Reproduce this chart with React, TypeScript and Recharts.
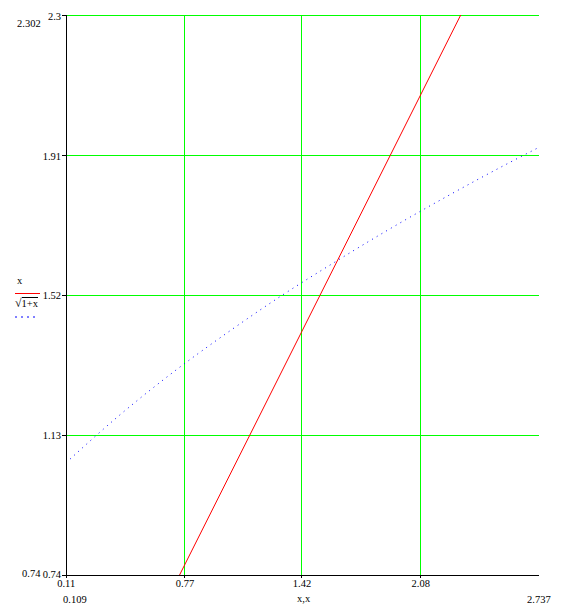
import { LineChart, Line, XAxis, YAxis, ReferenceLine } from 'recharts'

// Axis limits and ticks
const xMin = 0.109
const xMax = 2.737
const yMin = 0.74
const yMax = 2.302
const xTicks = [0.11, 0.77, 1.42, 2.08]
const yTicks = [0.74, 1.13, 1.52, 1.91, 2.3]
const xGrid = [0.77, 1.42, 2.08]
const yGrid = [1.13, 1.52, 1.91, 2.3]

// trace 1: x (red, solid)
const redX = [0.74, 2.302]
const redY = [0.74, 2.302]

// trace 2: sqrt(1+x) (blue, dotted)
const blueX = [0.109, 0.4, 0.7, 1.0, 1.3, 1.6, 1.9, 2.2, 2.5, 2.737]
const blueY = [1.053, 1.183, 1.304, 1.414, 1.517, 1.612, 1.703, 1.789, 1.871, 1.933]

const redData = redX.map((x, i) => ({ x, y: redY[i] }))
const blueData = blueX.map((x, i) => ({ x, y: blueY[i] }))

const FONT = "'Liberation Serif', 'DejaVu Serif', serif"
const FS = 10.5
const GREEN = '#00ff00'

const label = (left: number, top: number, text: string) => (
    <div style={{ position: 'absolute', left, top, fontFamily: FONT, fontSize: FS, lineHeight: '12px', color: '#000', whiteSpace: 'nowrap' }}>
        {text}
    </div>
)

export default function App() {
    return (
        <div style={{ position: 'absolute', left: 0, top: 0, width: 568, height: 607, background: '#fff' }}>
            <LineChart width={568} height={607} margin={{ top: 15, right: 29, bottom: 0, left: 0 }}>
                <XAxis
                    type="number"
                    dataKey="x"
                    domain={[xMin, xMax]}
                    ticks={xTicks}
                    allowDataOverflow
                    height={32}
                    axisLine={{ stroke: '#000', strokeWidth: 1, shapeRendering: 'crispEdges' }}
                    tickLine={{ stroke: '#000', shapeRendering: 'crispEdges' }}
                    tickSize={3}
                    tick={(p: any) => (
                        <text key={p.payload.value} x={p.x} y={583} textAnchor="middle" dominantBaseline="central"
                            fontFamily={FONT} fontSize={FS} fill="#000">
                            {p.payload.value}
                        </text>
                    )}
                />
                <YAxis
                    type="number"
                    dataKey="y"
                    domain={[yMin, yMax]}
                    ticks={yTicks}
                    allowDataOverflow
                    width={66}
                    axisLine={{ stroke: '#000', strokeWidth: 1, shapeRendering: 'crispEdges' }}
                    tickLine={{ stroke: '#000', shapeRendering: 'crispEdges' }}
                    tickSize={4}
                    tick={(p: any) => (
                        <text key={p.payload.value} x={61} y={p.payload.value === 0.74 ? p.y - 1 : p.y + 0.5} textAnchor="end" dominantBaseline="central"
                            fontFamily={FONT} fontSize={FS} fill="#000">
                            {p.payload.value}
                        </text>
                    )}
                />

                {/* grid lines */}
                {yGrid.map(v => (
                    <ReferenceLine key={'h' + v} y={v} stroke={GREEN} strokeWidth={1} shapeRendering="crispEdges" />
                ))}
                {xGrid.map(v => (
                    <ReferenceLine key={'v' + v} x={v} stroke={GREEN} strokeWidth={1} shapeRendering="crispEdges" />
                ))}

                <Line data={blueData} dataKey="y" type="monotone" stroke="#0000ff" strokeWidth={1}
                    strokeDasharray="1 4.5" dot={false} isAnimationActive={false} />
                <Line data={redData} dataKey="y" type="linear" stroke="#ff0000" strokeWidth={1}
                    dot={false} isAnimationActive={false} />
            </LineChart>

            {/* axis limit labels */}
            {label(22, 568, '0.74')}
            {label(17, 18, '2.302')}
            {label(63, 594, '0.109')}
            {label(527, 594, '2.737')}
            {label(297, 593, 'x,x')}

            {/* trace legend */}
            {label(17, 275, 'x')}
            <div style={{ position: 'absolute', left: 15, top: 293, width: 25, height: 1, background: '#ff0000' }} />
            <div style={{ position: 'absolute', left: 15, top: 297, fontFamily: FONT, fontSize: 12, lineHeight: '12px', whiteSpace: 'nowrap' }}>
                √<span style={{ borderTop: '1px solid #000', fontSize: FS }}>1+x</span>
            </div>
            <svg style={{ position: 'absolute', left: 15, top: 316 }} width={22} height={2}>
                <line x1={0} y1={1} x2={22} y2={1} stroke="#0000ff" strokeWidth={1} strokeDasharray="2 4" />
            </svg>
        </div>
    )
}
